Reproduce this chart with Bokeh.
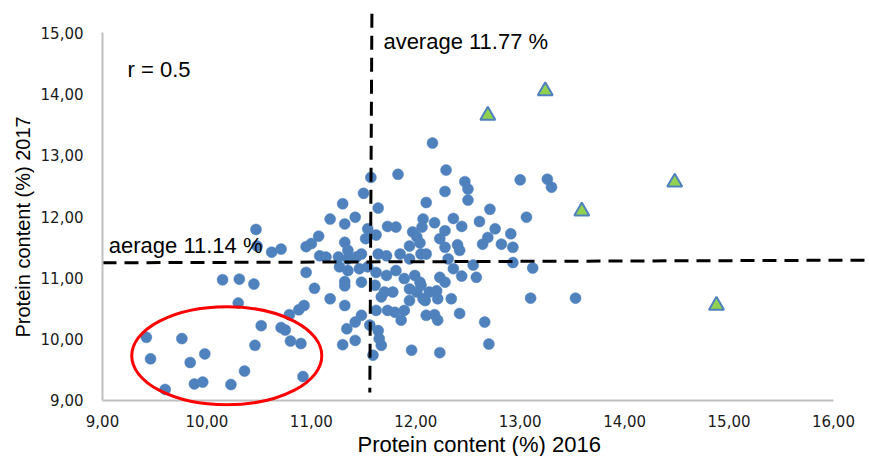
from bokeh.plotting import figure
from bokeh.models import Range1d, Label, FixedTicker, Title
from bokeh.embed import file_html
from bokeh.resources import INLINE

# ---- data: protein content (%) 2016 vs 2017 ----
x2016 = [9.42, 9.76, 9.46, 9.84, 9.98, 10.36, 9.60, 9.88, 9.96, 10.23,
         10.46, 10.52, 10.71, 10.75, 10.80, 10.90, 10.79, 10.88, 10.93, 10.92,
         10.30, 10.15, 10.31, 10.45, 10.47, 10.48, 10.62, 10.71, 10.95, 10.95,
         11.00, 11.07, 11.03, 11.18, 11.32, 11.08, 11.14, 11.26, 11.35, 11.43,
         11.48, 11.27, 11.35, 11.46, 11.54, 11.62, 11.72, 11.81, 11.48, 11.32,
         11.32, 11.61, 11.70, 11.67, 11.78, 11.89, 11.99, 12.04, 11.94, 12.01,
         11.94, 12.07, 11.62, 11.73, 11.80, 11.89, 11.86, 12.10, 11.48, 11.42,
         11.56, 11.34, 11.64, 11.65, 11.42, 11.30, 11.67, 11.96, 11.59,
         11.57, 11.83, 11.50, 11.30, 11.64, 11.18, 11.32, 11.42, 11.54, 11.52,
         11.62, 11.73, 11.81, 12.10, 12.07, 12.06, 11.97, 12.01, 12.04, 11.94,
         11.32, 11.35, 11.64, 11.72, 11.85, 11.94,
         12.16, 12.29, 12.47, 12.50, 12.28, 12.50, 13.00, 13.26, 13.30, 12.71,
         13.06, 12.36, 12.61, 12.44, 12.18, 12.28, 12.23, 12.76, 12.69, 12.64,
         12.91, 12.82, 12.40, 12.28, 12.93, 12.42, 12.05, 12.10, 12.31, 12.55,
         12.36, 12.93, 13.12, 12.44, 12.58, 12.23, 12.28, 12.05, 12.13, 12.20,
         12.21, 12.09, 12.34, 13.10, 12.18, 12.21, 12.42, 12.66, 12.70, 12.23, 13.53]
y2017 = [10.03, 10.01, 9.68, 9.62, 9.76, 9.48, 9.18, 9.27, 9.30, 9.26,
         9.90, 10.22, 10.19, 10.15, 9.97, 9.93, 10.40, 10.48, 10.55, 9.39,
         10.59, 10.97, 10.98, 10.90, 11.79, 11.52, 11.42, 11.47, 11.51, 11.09,
         11.56, 11.68, 10.83, 10.66, 10.55, 11.36, 11.34, 11.34, 11.31, 11.34,
         11.39, 11.18, 11.12, 11.15, 11.18, 11.09, 11.04, 11.12, 10.93, 10.94,
         10.87, 10.88, 10.77, 10.69, 10.77, 10.99, 11.04, 10.93, 10.82, 10.77,
         10.63, 10.66, 10.47, 10.47, 10.44, 10.47, 10.31, 10.39, 10.39, 10.28,
         10.23, 10.17, 10.14, 10.01, 9.98, 9.91, 9.90, 9.82, 9.74,
         12.64, 12.69, 12.38, 12.21, 12.14, 11.96, 11.88, 11.99, 11.80, 11.64,
         11.70, 11.84, 11.83, 12.23, 11.96, 11.83, 11.75, 11.67, 11.57, 11.52,
         11.58, 11.45, 11.39, 11.36, 11.39, 11.31,
         13.20, 12.76, 12.57, 12.45, 12.41, 12.27, 12.60, 12.61, 12.48, 12.12,
         11.99, 11.97, 11.92, 11.84, 11.90, 11.77, 11.64, 11.80, 11.66, 11.55,
         11.72, 11.55, 11.54, 11.50, 11.50, 11.45, 11.39, 11.39, 11.31, 11.21,
         11.15, 11.25, 11.16, 11.03, 11.01, 11.01, 10.93, 10.88, 10.77, 10.79,
         10.66, 10.63, 10.66, 10.67, 10.40, 10.31, 10.42, 10.28, 9.92, 9.78, 10.67]

# highlighted samples (triangles)
tri_x = [12.69, 13.24, 14.48, 13.59, 14.88]
tri_y = [13.65, 14.05, 12.56, 12.09, 10.55]

# average reference lines (as drawn)
avg_v_x = [11.58, 11.56]
avg_v_y = [15.31, 9.13]
avg_h_x = [9.0, 16.4]
avg_h_y = [11.246, 11.29]

# highlight ellipse (centre, width, height)
ell_x, ell_y, ell_w, ell_h = 10.19, 9.73, 1.82, 1.60

x_ticks = [9, 10, 11, 12, 13, 14, 15, 16]
x_tick_labels = ["9,00", "10,00", "11,00", "12,00", "13,00", "14,00", "15,00", "16,00"]
y_ticks = [9, 10, 11, 12, 13, 14, 15]
y_tick_labels = ["9,00", "10,00", "11,00", "12,00", "13,00", "14,00", "15,00"]

x_title = "Protein content (%) 2016"
y_title = "Protein content (%) 2017"

BLUE = "#4F81BD"
GREEN = "#92D050"
AXIS_GREY = "#BFBFBF"
TXT = "Liberation Sans"

p = figure(width=868, height=456, output_backend="svg", toolbar_location=None,
           x_range=Range1d(9.0, 16.326), y_range=Range1d(8.902, 15.33),
           min_border_left=102, min_border_right=1, min_border_top=12, min_border_bottom=49)
p.outline_line_color = None
p.background_fill_color = "white"
p.border_fill_color = "white"
p.xgrid.grid_line_color = None
p.ygrid.grid_line_color = None

# axes
for ax in (p.xaxis[0], p.yaxis[0]):
    ax.major_tick_line_color = None
    ax.minor_tick_line_color = None
    ax.major_tick_out = 0
    ax.major_tick_in = 0
    ax.major_label_text_font = "DejaVu Sans"
    ax.major_label_text_font_size = "15px"
    ax.major_label_text_color = "#1a1a1a"

p.xaxis.ticker = FixedTicker(ticks=x_ticks)
p.xaxis.major_label_overrides = {t: l for t, l in zip(x_ticks, x_tick_labels)}
p.xaxis.axis_line_color = None
p.xaxis.major_label_standoff = 8

p.yaxis.ticker = FixedTicker(ticks=y_ticks)
p.yaxis.major_label_overrides = {t: l for t, l in zip(y_ticks, y_tick_labels)}
p.yaxis.bounds = (y_ticks[0], y_ticks[-1])
p.yaxis.axis_line_color = AXIS_GREY
p.yaxis.axis_line_width = 2
p.yaxis.major_label_standoff = 19

# axis titles
p.add_layout(Title(text=x_title, align="left", offset=255, standoff=0,
                   text_font=TXT, text_font_size="22px", text_font_style="normal",
                   text_color="black"), "below")
p.add_layout(Title(text=y_title, align="left", offset=69, standoff=7,
                   text_font=TXT, text_font_size="20px", text_font_style="normal",
                   text_color="black"), "left")

# x axis line at y = 9
p.line(x=[x_ticks[0], x_ticks[-1]], y=[y_ticks[0], y_ticks[0]], line_color=AXIS_GREY, line_width=2)

# points
p.scatter(x=x2016, y=y2017, marker="circle", size=11, fill_color=BLUE, line_color=BLUE, line_width=0.5)
p.scatter(x=tri_x, y=tri_y, marker="triangle", size=15, fill_color=GREEN, line_color=BLUE, line_width=2)

# average lines
p.line(x=avg_v_x, y=avg_v_y, line_color="black", line_width=3, line_dash="14 8")
p.line(x=avg_h_x, y=avg_h_y, line_color="black", line_width=3, line_dash="14 8")

# ellipse
p.ellipse(x=[ell_x], y=[ell_y], width=[ell_w], height=[ell_h],
          fill_color=None, line_color="#FF0000", line_width=3)

# annotations
p.add_layout(Label(x=9.24, y=14.40, text="r = 0.5", text_font=TXT, text_font_size="22px",
                   text_baseline="middle", text_align="left", text_color="black"))
p.add_layout(Label(x=11.69, y=14.86, text="average 11.77 %", text_font=TXT, text_font_size="22px",
                   text_baseline="middle", text_align="left", text_color="black"))
p.add_layout(Label(x=9.06, y=11.53, text="aerage 11.14 %", text_font=TXT, text_font_size="22px",
                   text_baseline="middle", text_align="left", text_color="black"))

open("out.html", "w").write(file_html(p, INLINE))
